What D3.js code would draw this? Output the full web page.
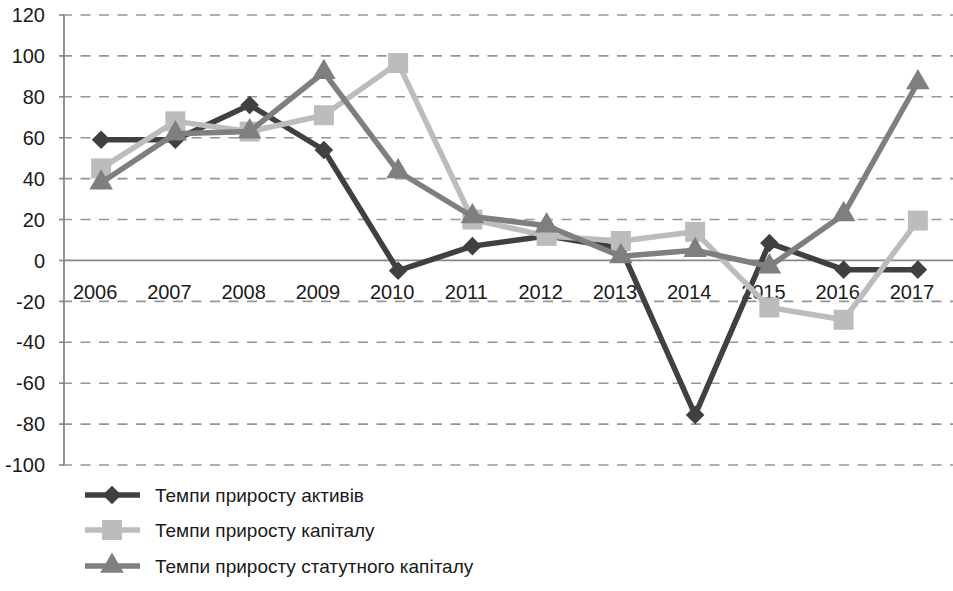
<!DOCTYPE html>
<html><head><meta charset="utf-8">
<script src="https://cdn.jsdelivr.net/npm/d3@7"></script>
<style>body{margin:0;background:#fff;} text{font-family:"Liberation Sans",Arial,sans-serif;}</style>
</head><body><svg id="c" width="953" height="591"></svg>
<script>
const years = ["2006","2007","2008","2009","2010","2011","2012","2013","2014","2015","2016","2017"];
const assets = [59,59,76,54,-5,7,12,6,-75.5,8.5,-4.5,-4.5];
const capital = [45,68,63,71,96.5,20,12,9.5,14,-23,-29,19.5];
const statutory = [38,62,63,92,43.5,21.5,17,2,5,-3,22.5,87];
const yTicks = [120,100,80,60,40,20,0,-20,-40,-60,-80,-100];
const seriesNames = ["Темпи приросту активів","Темпи приросту капіталу","Темпи приросту статутного капіталу"];

const svg = d3.select("#c");
const x = d3.scaleBand().domain(years).range([64,955]);
const y = d3.scaleLinear().domain([-100,120]).range([465,15]);

// gridlines
svg.append("g").selectAll("line").data(yTicks.filter(d=>d!==0)).join("line")
  .attr("x1",58).attr("x2",953).attr("y1",d=>y(d)).attr("y2",d=>y(d))
  .attr("stroke","#969696").attr("stroke-width",1.6).attr("stroke-dasharray","10,8.5")
  .attr("stroke-dashoffset",-4);
// small ticks left of axis
svg.append("g").selectAll("line").data(yTicks).join("line")
  .attr("x1",59).attr("x2",64).attr("y1",d=>y(d)).attr("y2",d=>y(d))
  .attr("stroke","#888").attr("stroke-width",1.6);
// zero line
svg.append("line").attr("x1",64).attr("x2",953).attr("y1",y(0)).attr("y2",y(0))
  .attr("stroke","#888").attr("stroke-width",1.8);
// y axis line
svg.append("line").attr("x1",64).attr("x2",64).attr("y1",y(120)).attr("y2",y(-100))
  .attr("stroke","#888").attr("stroke-width",1.8);

// y labels
svg.append("g").selectAll("text").data(yTicks).join("text")
  .attr("x",45).attr("y",d=>y(d)).attr("dy","0.36em").attr("text-anchor","end")
  .attr("font-size",20).attr("fill","#1a1a1a").text(d=>d);
// x labels
svg.append("g").selectAll("text").data(years).join("text")
  .attr("x",d=>x(d)+x.bandwidth()/2-6).attr("y",y(0)+39).attr("text-anchor","middle")
  .attr("font-size",20).attr("fill","#1a1a1a").text(d=>d);

const cx = d=>x(d)+x.bandwidth()/2;
const series = [
  {vals:assets,color:"#404040",marker:"diamond"},
  {vals:capital,color:"#bcbcbc",marker:"square"},
  {vals:statutory,color:"#7f7f7f",marker:"triangle"}
];
const symFor = m => m==="diamond" ? d3.symbol().type(d3.symbolDiamond2).size(220)
  : m==="square" ? d3.symbol().type(d3.symbolSquare).size(400)
  : d3.symbol().type(d3.symbolTriangle).size(240);
const line = d3.line().x(d=>cx(d.year)).y(d=>y(d.v));
series.forEach(s=>{
  const pts = years.map((yr,i)=>({year:yr,v:s.vals[i]}));
  const g = svg.append("g");
  g.append("path").datum(pts).attr("d",line).attr("fill","none")
    .attr("stroke",s.color).attr("stroke-width",5.5).attr("stroke-linejoin","round");
  g.selectAll("path.m").data(pts).join("path").attr("class","m")
    .attr("transform",d=>`translate(${cx(d.year)},${y(d.v)})`)
    .attr("d",symFor(s.marker)()).attr("fill",s.color);
});

// legend
const ly = [495,530,566];
series.forEach((s,i)=>{
  const g = svg.append("g");
  g.append("line").attr("x1",85).attr("x2",140).attr("y1",ly[i]).attr("y2",ly[i])
    .attr("stroke",s.color).attr("stroke-width",5.5);
  g.append("path").attr("transform",`translate(112,${ly[i]})`)
    .attr("d",symFor(s.marker)()).attr("fill",s.color);
  g.append("text").attr("x",155).attr("y",ly[i]).attr("dy","0.36em")
    .attr("font-size",19).attr("fill","#1a1a1a").text(seriesNames[i]);
});
</script></body></html>
